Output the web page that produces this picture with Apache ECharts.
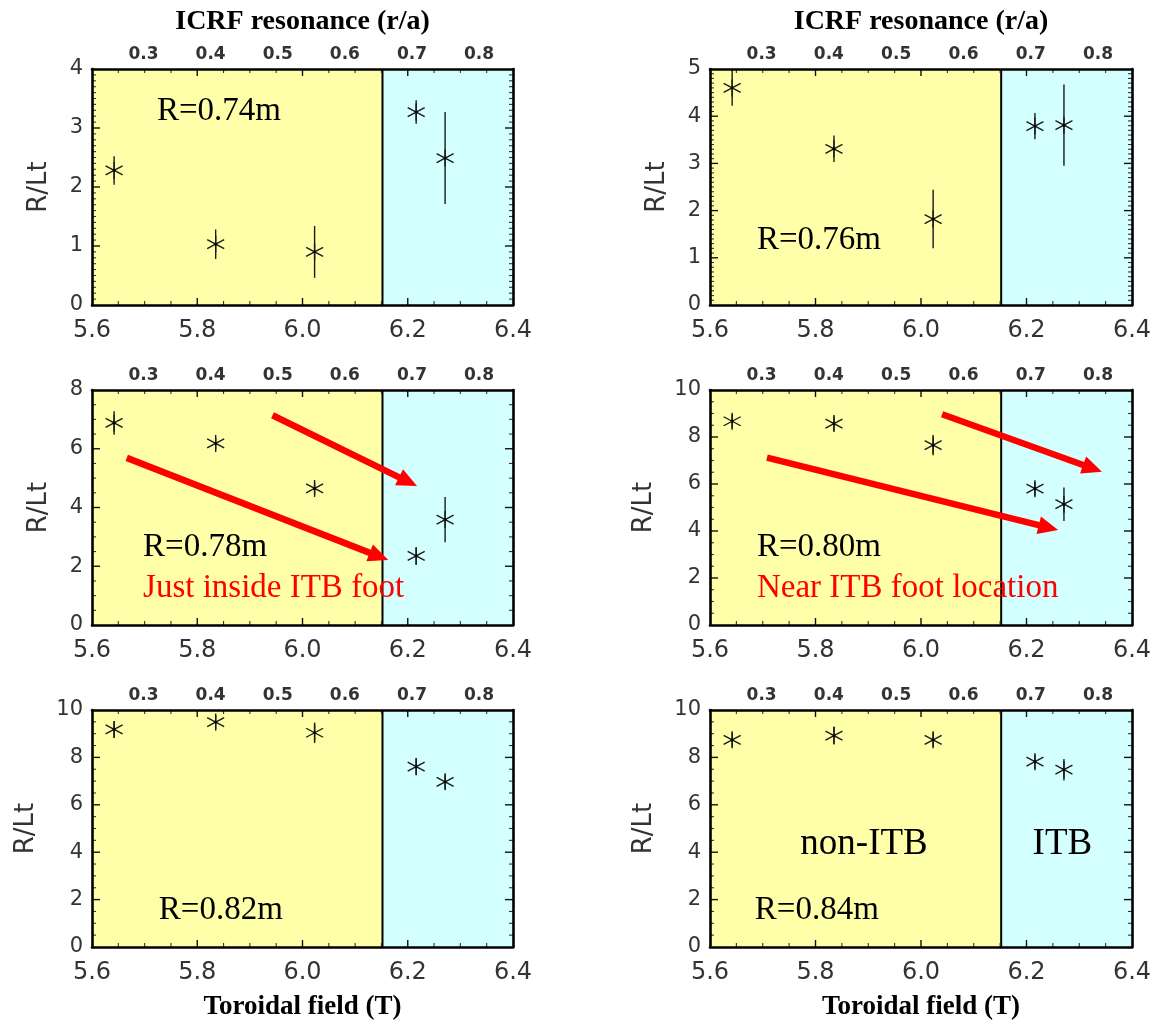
<!DOCTYPE html>
<html><head><meta charset="utf-8">
<script src="https://cdn.jsdelivr.net/npm/echarts@6/dist/echarts.min.js"></script>
<style>html,body{margin:0;padding:0;background:#fff}#c{width:1158px;height:1026px}</style>
</head><body><div id="c"></div>
<script>
// ---------------- data ----------------
const toroidalField = [5.642, 5.835, 6.023, 6.216, 6.271];   // T
const itbBoundary = 6.152;                                   // T, non-ITB / ITB boundary
const radiusLabels = ['R=0.74m', 'R=0.76m', 'R=0.78m', 'R=0.80m', 'R=0.82m', 'R=0.84m'];

const rlt074 = [2.28, 1.03, 0.90, 3.27, 2.49];
const err074 = [0.24, 0.25, 0.44, 0.20, 0.78];
const rlt076 = [4.60, 3.31, 1.82, 3.79, 3.81];
const err076 = [0.38, 0.28, 0.62, 0.28, 0.86];
const rlt078 = [6.88, 6.18, 4.65, 2.35, 3.59];
const err078 = [0.40, 0.20, 0.20, 0.30, 0.77];
const rlt080 = [8.67, 8.57, 7.65, 5.80, 5.14];
const err080 = [0.30, 0.30, 0.43, 0.30, 0.71];
const rlt082 = [9.18, 9.49, 9.04, 7.61, 6.97];
const err082 = [0.35, 0.30, 0.43, 0.35, 0.30];
const rlt084 = [8.74, 8.92, 8.74, 7.82, 7.48];
const err084 = [0.30, 0.38, 0.30, 0.30, 0.45];

const fieldTicks = [5.6, 5.8, 6.0, 6.2, 6.4];
const fieldMinorSplit = 4;
const resonanceTicks = [0.3, 0.4, 0.5, 0.6, 0.7, 0.8];
const resonanceRange = [0.2233, 0.8505];   // r/a at B = 5.6 and 6.4
const yMaxes = [4, 5, 8, 10, 10, 10];
const ySteps = [1, 1, 2, 2, 2, 2];
const yMinorSplits = [10, 10, 4, 4, 4, 4];

// arrows [B1, R/Lt1, B2, R/Lt2]
const arrows078 = [[5.943, 7.14, 6.2176, 4.73], [5.666, 5.69, 6.163, 2.21]];
const arrows080 = [[6.040, 8.97, 6.343, 6.52], [5.708, 7.12, 6.260, 4.04]];

// annotations: [B, R/Lt] anchors
const notes = [
  [{at: [5.7235, 3.28], text: radiusLabels[0]}],
  [{at: [5.689, 1.36], text: radiusLabels[1]}],
  [{at: [5.697, 2.65], text: radiusLabels[2]}, {at: [5.697, 1.26], text: 'Just inside ITB foot', red: true}],
  [{at: [5.689, 3.32], text: radiusLabels[3]}, {at: [5.689, 1.57], text: 'Near ITB foot location', red: true}],
  [{at: [5.727, 1.55], text: radiusLabels[4]}],
  [{at: [5.685, 1.55], text: radiusLabels[5]}, {at: [5.892, 4.35], text: 'non-ITB', big: true, center: true}, {at: [6.268, 4.35], text: 'ITB', big: true, center: true}]
];

const values = [rlt074, rlt076, rlt078, rlt080, rlt082, rlt084];
const errors = [err074, err076, err078, err080, err082, err084];
const arrowSets = [[], [], arrows078, arrows080, [], []];

// ---------------- layout ----------------
const grids = [
  {left: 92, top: 69, width: 421, height: 236},
  {left: 710, top: 69, width: 422, height: 236},
  {left: 92, top: 390, width: 421, height: 235},
  {left: 710, top: 390, width: 422, height: 235},
  {left: 92, top: 710, width: 421, height: 237},
  {left: 710, top: 710, width: 422, height: 237}
];

const SANS = 'DejaVu Sans';
const SERIF = 'Liberation Serif';
const xMin = fieldTicks[0], xMax = fieldTicks[fieldTicks.length - 1];
const xStep = fieldTicks[1] - fieldTicks[0];

const xAxes = [], yAxes = [], series = [];
grids.forEach((g, i) => {
  const mkLine = () => ({show: true, onZero: false, lineStyle: {color: '#000', width: 2.6}});
  // bottom field axis
  xAxes.push({
    gridIndex: i, type: 'value', position: 'bottom', min: xMin, max: xMax,
    interval: 0.2, z: 10, axisLine: mkLine(), axisTick: {show: false}, minorTick: {show: false},
    splitLine: {show: false}, minorSplitLine: {show: false},
    axisLabel: {fontSize: 24, color: '#333', fontFamily: SANS, margin: 14, formatter: v => v.toFixed(1)},
    name: i >= 4 ? 'Toroidal field (T)' : '', nameLocation: 'middle', nameGap: 47,
    nameTextStyle: {fontFamily: SERIF, fontWeight: 'bold', fontSize: 27, color: '#000'}
  });
  // top frame line
  xAxes.push({
    gridIndex: i, type: 'value', position: 'top', min: xMin, max: xMax,
    interval: 0.2, z: 10, axisLine: mkLine(), axisTick: {show: false}, minorTick: {show: false},
    splitLine: {show: false}, minorSplitLine: {show: false}, axisLabel: {show: false}
  });
  // top r/a labels
  xAxes.push({
    gridIndex: i, type: 'value', position: 'top', min: resonanceRange[0], max: resonanceRange[1], z: 10,
    axisLine: {show: false}, axisTick: {show: false}, splitLine: {show: false},
    axisLabel: {customValues: resonanceTicks, fontSize: 17, fontWeight: 'bold', color: '#333', fontFamily: SANS,
      margin: 6, formatter: v => v.toFixed(1)},
    name: i < 2 ? 'ICRF resonance (r/a)' : '', nameLocation: 'middle', nameGap: 33,
    nameTextStyle: {fontFamily: SERIF, fontWeight: 'bold', fontSize: 28, color: '#000'}
  });
  yAxes.push({
    gridIndex: i, type: 'value', position: 'left', min: 0, max: yMaxes[i], interval: ySteps[i], z: 10,
    axisLine: mkLine(), axisTick: {show: false}, minorTick: {show: false},
    splitLine: {show: false}, minorSplitLine: {show: false},
    axisLabel: {fontSize: 21, color: '#333', fontFamily: SANS, margin: 9},
    name: 'R/Lt', nameLocation: 'middle', nameRotate: 90, nameGap: yMaxes[i] >= 10 ? 53 : 40,
    nameTextStyle: {fontSize: 26, color: '#333', fontFamily: SANS}
  });
  yAxes.push({
    gridIndex: i, type: 'value', position: 'right', min: 0, max: yMaxes[i], interval: ySteps[i], z: 10,
    axisLine: mkLine(), axisTick: {show: false}, minorTick: {show: false},
    splitLine: {show: false}, minorSplitLine: {show: false}, axisLabel: {show: false}
  });

  const xi = i * 3, yi = i * 2;
  // regions
  series.push({
    type: 'custom', xAxisIndex: xi, yAxisIndex: yi, z: 1, silent: true,
    data: [[xMin, itbBoundary, xMax, 0, yMaxes[i]]],
    encode: {x: [0, 1, 2], y: [3, 4]},
    renderItem: (params, api) => {
      const a = api.coord([api.value(0), api.value(4)]);
      const b = api.coord([api.value(1), api.value(3)]);
      const c = api.coord([api.value(2), api.value(3)]);
      return {type: 'group', children: [
        {type: 'rect', shape: {x: a[0], y: a[1], width: b[0] - a[0], height: b[1] - a[1]}, style: {fill: '#FFFFAA'}},
        {type: 'rect', shape: {x: b[0], y: a[1], width: c[0] - b[0], height: b[1] - a[1]}, style: {fill: '#D4FFFF'}},
        {type: 'line', shape: {x1: b[0], y1: a[1], x2: b[0], y2: b[1]}, style: {stroke: '#000', lineWidth: 2}}
      ]};
    }
  });
  // inward ticks on all four sides, placed through the axis scales
  const yMax = yMaxes[i], yStep = ySteps[i], ySplit = yMinorSplits[i];
  series.push({
    type: 'custom', xAxisIndex: xi, yAxisIndex: yi, z: 6, silent: true,
    data: [[xMin, 0, xMax, yMax]], encode: {x: [0, 2], y: [1, 3]},
    renderItem: (params, api) => {
      const kids = [];
      const lo = api.coord([xMin, 0]), hi = api.coord([xMax, yMax]);
      const major = {stroke: '#111', lineWidth: 1.4}, minorS = {stroke: '#333', lineWidth: 1.1};
      const nx = Math.round((xMax - xMin) / xStep) * fieldMinorSplit;
      for (let k = 1; k < nx; k++) {
        const v = xMin + k * xStep / fieldMinorSplit;
        const px = api.coord([v, 0])[0];
        const isMajor = k % fieldMinorSplit === 0, L = isMajor ? 7 : 4;
        const st = isMajor ? major : minorS;
        kids.push({type: 'line', shape: {x1: px, y1: lo[1], x2: px, y2: lo[1] - L}, style: st});
        kids.push({type: 'line', shape: {x1: px, y1: hi[1], x2: px, y2: hi[1] + L}, style: st});
      }
      const ny = Math.round(yMax / yStep) * ySplit;
      for (let k = 1; k < ny; k++) {
        const v = k * yStep / ySplit;
        const py = api.coord([xMin, v])[1];
        const isMajor = k % ySplit === 0, L = isMajor ? 8 : 4;
        const st = isMajor ? major : minorS;
        kids.push({type: 'line', shape: {x1: lo[0], y1: py, x2: lo[0] + L, y2: py}, style: st});
        kids.push({type: 'line', shape: {x1: hi[0], y1: py, x2: hi[0] - L, y2: py}, style: st});
      }
      return {type: 'group', children: kids};
    }
  });
  // arrows
  if (arrowSets[i].length) {
    series.push({
      type: 'custom', xAxisIndex: xi, yAxisIndex: yi, z: 3, silent: true,
      data: arrowSets[i], encode: {x: [0, 2], y: [1, 3]},
      renderItem: (params, api) => {
        const p1 = api.coord([api.value(0), api.value(1)]);
        const p2 = api.coord([api.value(2), api.value(3)]);
        const dx = p2[0] - p1[0], dy = p2[1] - p1[1], L = Math.hypot(dx, dy);
        const ux = dx / L, uy = dy / L, hl = 20, hw = 9;
        const bx = p2[0] - ux * hl, by = p2[1] - uy * hl;
        return {type: 'group', children: [
          {type: 'line', shape: {x1: p1[0], y1: p1[1], x2: bx + ux * 3, y2: by + uy * 3}, style: {stroke: '#ff0000', lineWidth: 6.5}},
          {type: 'polygon', shape: {points: [[p2[0], p2[1]], [bx - uy * hw, by + ux * hw], [bx + uy * hw, by - ux * hw]]}, style: {fill: '#ff0000'}}
        ]};
      }
    });
  }
  // points with error bars
  series.push({
    type: 'custom', xAxisIndex: xi, yAxisIndex: yi, z: 4, silent: true,
    data: toroidalField.map((b, k) => [b, values[i][k], errors[i][k]]),
    encode: {x: 0, y: 1},
    renderItem: (params, api) => {
      const x = api.value(0), y = api.value(1), e = api.value(2);
      const c = api.coord([x, y]);
      const t = api.coord([x, y + e]), bt = api.coord([x, y - e]);
      const s = {stroke: '#1a1a1a', lineWidth: 1.4};
      const r = 8.5, dx = 8.5, dy = 4.5;
      return {type: 'group', children: [
        {type: 'line', shape: {x1: c[0], y1: t[1], x2: c[0], y2: bt[1]}, style: s},
        {type: 'line', shape: {x1: c[0], y1: c[1] - r, x2: c[0], y2: c[1] + r}, style: s},
        {type: 'line', shape: {x1: c[0] - dx, y1: c[1] - dy, x2: c[0] + dx, y2: c[1] + dy}, style: s},
        {type: 'line', shape: {x1: c[0] - dx, y1: c[1] + dy, x2: c[0] + dx, y2: c[1] - dy}, style: s},
        {type: 'circle', shape: {cx: c[0], cy: c[1], r: 1.4}, style: {fill: '#000'}}
      ]};
    }
  });
  // annotations
  const ns = notes[i];
  series.push({
    type: 'custom', xAxisIndex: xi, yAxisIndex: yi, z: 5, silent: true,
    data: ns.map(n => n.at), encode: {x: 0, y: 1},
    renderItem: (params, api) => {
      const n = ns[params.dataIndex];
      const p = api.coord([api.value(0), api.value(1)]);
      return {type: 'text', x: p[0], y: p[1], style: {
        text: n.text, fill: n.red ? '#ff0000' : '#000', fontFamily: SERIF,
        fontSize: n.big ? 37 : 33, align: n.center ? 'center' : 'left', verticalAlign: 'middle'}};
    }
  });
});

const chart = echarts.init(document.getElementById('c'), null, {renderer: 'canvas'});
chart.setOption({
  animation: false,
  backgroundColor: '#fff',
  grid: grids.map(g => Object.assign({containLabel: false}, g)),
  xAxis: xAxes,
  yAxis: yAxes,
  series: series
});
</script>
</body></html>
